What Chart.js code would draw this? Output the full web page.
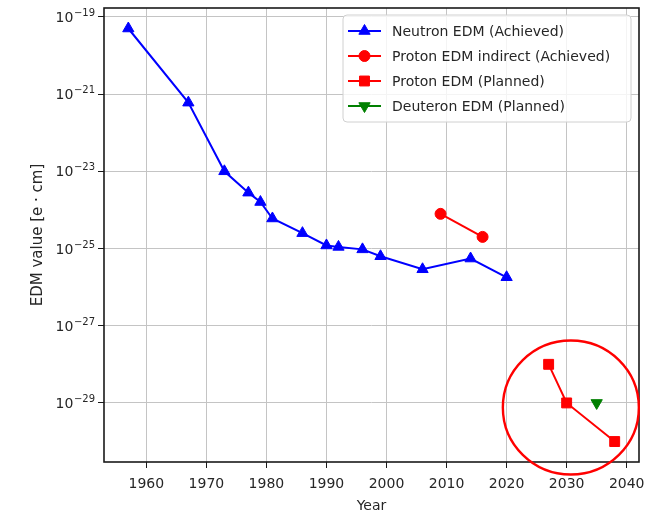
<!DOCTYPE html>
<html>
<head>
<meta charset="utf-8">
<script src="https://cdn.jsdelivr.net/npm/chart.js@4.4.0/dist/chart.umd.min.js"></script>
<style>
  body { margin: 0; background: #fff; }
  #wrap { width: 656px; height: 515px; }
</style>
</head>
<body>
<div id="wrap"><canvas id="edmChart" width="656" height="515"></canvas></div>
<script>
// neutron EDM upper limits (achieved)
const neutronYears = [1957, 1967, 1973, 1977, 1979, 1981, 1986, 1990, 1992, 1996, 1999, 2006, 2014, 2020];
const neutronEdm = [5e-20, 6e-22, 1e-23, 2.8e-24, 1.6e-24, 6e-25, 2.5e-25, 1.2e-25, 1.1e-25, 9.5e-26, 6.3e-26, 2.9e-26, 5.5e-26, 1.8e-26];

// proton EDM, indirect (achieved)
const protonIndYears = [2009, 2016];
const protonIndEdm = [7.9e-25, 2e-25];

// proton EDM (planned)
const protonPlanYears = [2027, 2030, 2038];
const protonPlanEdm = [1e-28, 1e-29, 1e-30];

// deuteron EDM (planned)
const deuteronYears = [2035];
const deuteronEdm = [1e-29];

const xTicks = [1960, 1970, 1980, 1990, 2000, 2010, 2020, 2030, 2040];
const yTicks = [1e-29, 1e-27, 1e-25, 1e-23, 1e-21, 1e-19];

// the hand drawn circle round the planned points
const circleYear = 2030.7;
const circleEdm = Math.pow(10, -29.12);

const FONT = "'DejaVu Sans', sans-serif";
const TEXT_COL = "#262626";

function toPoints(xs, ys) {
  return xs.map((x, i) => ({ x: x, y: ys[i] }));
}

// box round the plot, like matplotlib spines
const framePlugin = {
  id: "frame",
  afterDatasetsDraw(chart) {
    const a = chart.chartArea;
    const ctx = chart.ctx;
    ctx.save();
    ctx.strokeStyle = "#1a1a1a";
    ctx.lineWidth = 1.6;
    ctx.strokeRect(a.left, a.top, a.right - a.left, a.bottom - a.top);
    ctx.restore();
  },
};

// y tick labels as 10 with a raised exponent (chart.js can't mix font sizes)
const powerLabels = {
  id: "powerLabels",
  afterDraw(chart) {
    const scale = chart.scales.y;
    const ctx = chart.ctx;
    const right = chart.chartArea.left - 9;
    ctx.save();
    ctx.fillStyle = TEXT_COL;
    ctx.textAlign = "right";
    ctx.textBaseline = "alphabetic";
    yTicks.forEach((v) => {
      const y = scale.getPixelForValue(v);
      const exp = "\u2212" + Math.abs(Math.round(Math.log10(v)));
      ctx.font = "10px " + FONT;
      const expW = ctx.measureText(exp).width;
      ctx.fillText(exp, right, y - 1);
      ctx.font = "14px " + FONT;
      ctx.fillText("10", right - expW - 0.5, y + 5);
    });
    ctx.restore();
  },
};

// legend drawn inside the plot area, line + marker per row
const innerLegend = {
  id: "innerLegend",
  afterDatasetsDraw(chart) {
    const a = chart.chartArea;
    const ctx = chart.ctx;
    const bw = 288, bh = 107;
    const bx = a.right - 8 - bw;
    const by = a.top + 7;
    ctx.save();
    ctx.beginPath();
    ctx.roundRect(bx, by, bw, bh, 4);
    ctx.fillStyle = "rgba(255,255,255,0.82)";
    ctx.fill();
    ctx.strokeStyle = "#d0d0d0";
    ctx.lineWidth = 1;
    ctx.stroke();

    chart.data.datasets.forEach((ds, i) => {
      const cy = by + 16 + i * 25;
      const x0 = bx + 5, x1 = bx + 38;
      ctx.strokeStyle = ds.borderColor;
      ctx.lineWidth = ds.borderWidth;
      ctx.beginPath();
      ctx.moveTo(x0, cy);
      ctx.lineTo(x1, cy);
      ctx.stroke();
      ctx.fillStyle = ds.pointBackgroundColor;
      ctx.strokeStyle = ds.pointBorderColor;
      ctx.lineWidth = 1;
      Chart.helpers.drawPoint(ctx, {
        pointStyle: ds.pointStyle,
        rotation: ds.pointRotation || 0,
        radius: ds.pointRadius,
        borderWidth: 1,
      }, (x0 + x1) / 2, cy);
      ctx.fillStyle = TEXT_COL;
      ctx.font = "14px " + FONT;
      ctx.textBaseline = "middle";
      ctx.textAlign = "left";
      ctx.fillText(ds.label, bx + 49, cy + 1);
    });
    ctx.restore();
  },
};

// red ring annotation
const ringPlugin = {
  id: "ring",
  afterDraw(chart) {
    const cx = chart.scales.x.getPixelForValue(circleYear);
    const cy = chart.scales.y.getPixelForValue(circleEdm);
    const ctx = chart.ctx;
    ctx.save();
    ctx.strokeStyle = "#ff0000";
    ctx.lineWidth = 2.4;
    ctx.beginPath();
    ctx.ellipse(cx, cy, 68, 67, 0, 0, Math.PI * 2);
    ctx.stroke();
    ctx.restore();
  },
};

function series(label, xs, ys, color, style, radius, rotation) {
  return {
    label: label,
    data: toPoints(xs, ys),
    borderColor: color,
    backgroundColor: color,
    pointBackgroundColor: color,
    pointBorderColor: color,
    borderWidth: 2,
    pointStyle: style,
    pointRadius: radius,
    pointHoverRadius: radius,
    pointBorderWidth: 1,
    pointRotation: rotation || 0,
    tension: 0,
    fill: false,
    showLine: true,
  };
}

const ctx = document.getElementById("edmChart").getContext("2d");
new Chart(ctx, {
  type: "line",
  data: {
    datasets: [
      series("Neutron EDM (Achieved)", neutronYears, neutronEdm, "#0000ff", "triangle", 6.5),
      series("Proton EDM indirect (Achieved)", protonIndYears, protonIndEdm, "#ff0000", "circle", 5.5),
      series("Proton EDM (Planned)", protonPlanYears, protonPlanEdm, "#ff0000", "rect", 7),
      series("Deuteron EDM (Planned)", deuteronYears, deuteronEdm, "#008000", "triangle", 6.5, 180),
    ],
  },
  options: {
    responsive: false,
    animation: false,
    layout: { padding: { top: 6, right: 17, left: 0, bottom: 0 } },
    plugins: {
      legend: { display: false },
      tooltip: { enabled: false },
    },
    scales: {
      x: {
        type: "linear",
        min: 1952.95,
        max: 2042.05,
        afterBuildTicks: (scale) => {
          scale.ticks = xTicks.map((v) => ({ value: v }));
        },
        afterFit: (scale) => { scale.height = 53; },
        grid: { color: "#c4c4c4", lineWidth: 1, tickColor: "#1a1a1a", tickLength: 6, drawTicks: true },
        border: { display: false },
        ticks: {
          color: TEXT_COL,
          font: { family: FONT, size: 14 },
          padding: 8,
          maxRotation: 0,
          callback: (v) => String(v),
        },
        title: {
          display: true,
          text: "Year",
          color: TEXT_COL,
          font: { family: FONT, size: 14 },
          padding: { top: 0, bottom: 0 },
        },
      },
      y: {
        type: "logarithmic",
        min: Math.pow(10, -30.53),
        max: Math.pow(10, -18.77),
        afterBuildTicks: (scale) => {
          scale.ticks = yTicks.map((v) => ({ value: v }));
        },
        afterFit: (scale) => { scale.width = 104; },
        grid: { color: "#c4c4c4", lineWidth: 1, tickColor: "#1a1a1a", tickLength: 6, drawTicks: true },
        border: { display: false },
        ticks: { display: false },
        title: {
          display: true,
          text: "EDM value [e \u00B7 cm]",
          color: TEXT_COL,
          font: { family: FONT, size: 15 },
          padding: { top: 29, bottom: 0 },
        },
      },
    },
  },
  plugins: [framePlugin, innerLegend, ringPlugin, powerLabels],
});
</script>
</body>
</html>
